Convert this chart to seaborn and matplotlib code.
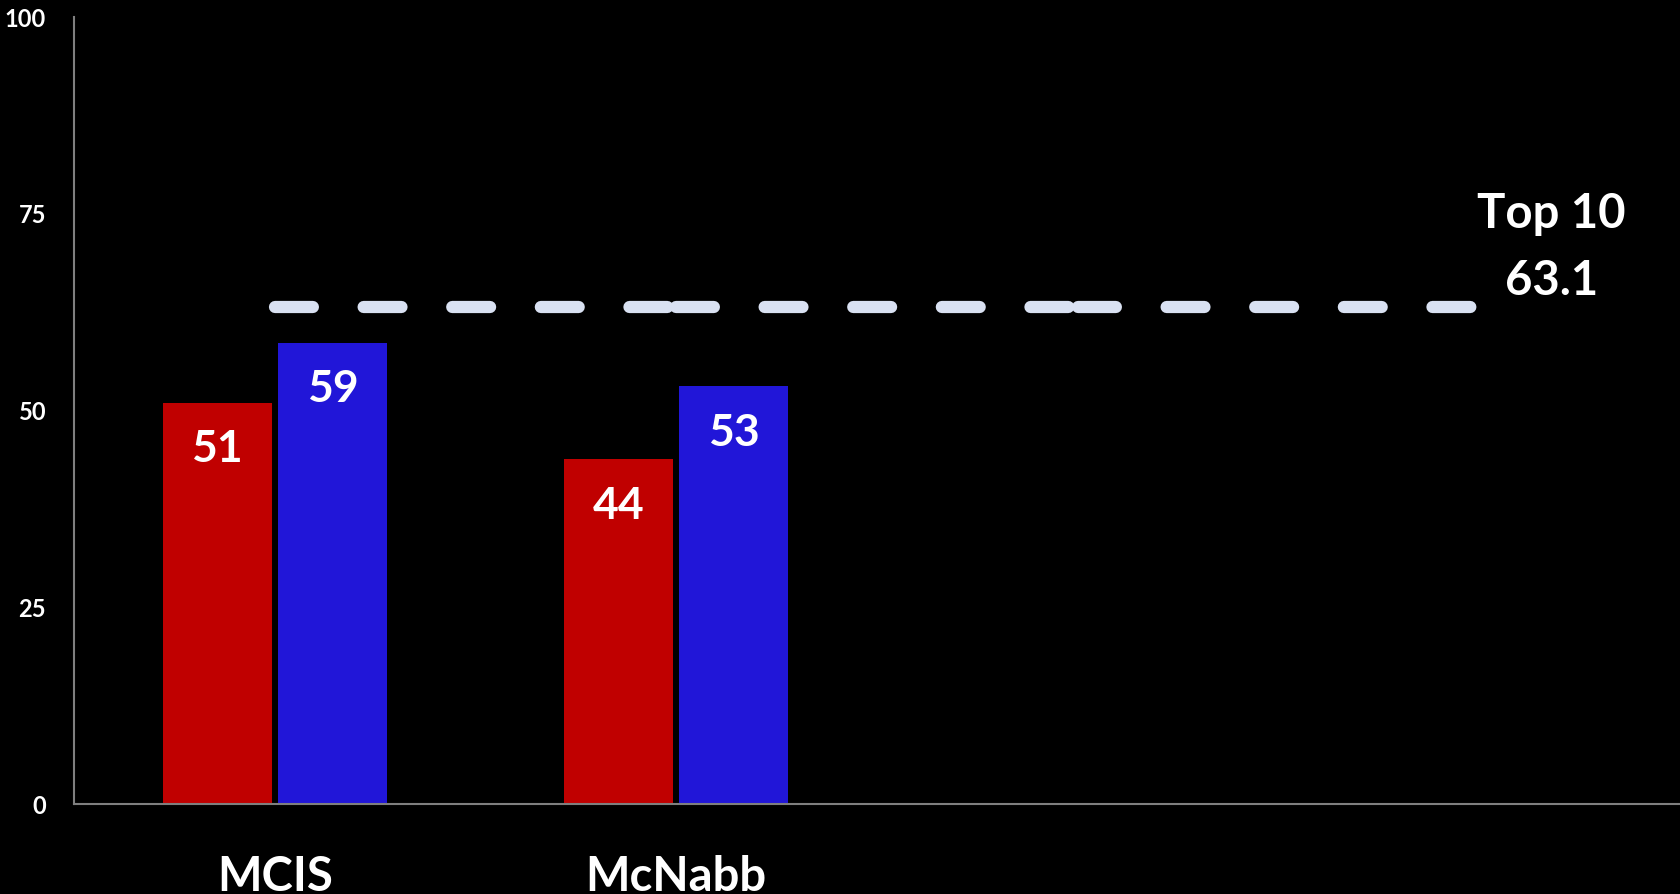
import numpy as np
import pandas as pd
import seaborn as sns
import matplotlib.pyplot as plt

# Dados do gráfico
categories = ['MCIS', 'McNabb']
series_names = ['Série 1', 'Série 2']
red_values = [51, 43.8]
blue_values = [58.6, 53.1]
top10_value = 63.1
top10_label = 'Top 10'
slot_count = 4          # o eixo tem 4 posições, só 2 com barras
y_ticks = [0, 25, 50, 75, 100]

df = pd.DataFrame({
    'cat': categories * 2,
    'series': [series_names[0]] * len(categories) + [series_names[1]] * len(categories),
    'value': red_values + blue_values,
})

# linha "Top 10" desenhada em segmentos (um por intervalo de categoria)
seg_rows = []
for i in range(slot_count - 1):
    seg_rows.append({'seg': i, 'x': i, 'y': top10_value})
    seg_rows.append({'seg': i, 'x': i + 1, 'y': top10_value})
df_line = pd.DataFrame(seg_rows)

sns.set_theme(style='ticks', rc={'figure.facecolor': 'black', 'axes.facecolor': 'black'})
plt.rcParams['font.family'] = ['Lato', 'DejaVu Sans']

fig = plt.figure(figsize=(16.8, 8.94), dpi=100)
ax = fig.add_axes([74 / 1680, 90 / 894, 1 - 74 / 1680, 787 / 894])

sns.barplot(data=df, x='cat', y='value', hue='series', order=categories,
            palette=['#C00000', '#2116D8'], saturation=1, width=0.575, gap=0.056,
            linewidth=0, edgecolor='none', legend=False, ax=ax)

sns.lineplot(data=df_line, x='x', y='y', units='seg', estimator=None, ax=ax,
             color='#D9E1F2', linewidth=8.8, linestyle=(0, (3.1, 4.15)),
             dash_capstyle='round', solid_capstyle='round')

# rótulos das barras
for container in ax.containers:
    ax.bar_label(container, fmt='%.0f', padding=-48, color='white',
                 fontsize=32, fontweight='bold')

# texto da linha Top 10
ax.annotate(top10_label, xy=(slot_count - 1, top10_value), xytext=(52, 67),
            textcoords='offset points', ha='center', va='center',
            color='white', fontsize=34, fontweight='bold', annotation_clip=False)
ax.annotate(f'{top10_value}', xy=(slot_count - 1, top10_value), xytext=(52, 19),
            textcoords='offset points', ha='center', va='center',
            color='white', fontsize=34, fontweight='bold', annotation_clip=False)

# Personalizando os eixos
ax.set_xlim(-0.5, slot_count - 0.5)
ax.set_ylim(0, 100)
ax.set_yticks(y_ticks)
ax.set_xlabel('')
ax.set_ylabel('')
sns.despine(ax=ax)
for side in ['left', 'bottom']:
    ax.spines[side].set_color('#7f7f7f')
    ax.spines[side].set_linewidth(1.5)
ax.tick_params(axis='y', length=0, pad=20, labelsize=17, labelcolor='white')
ax.tick_params(axis='x', length=0, pad=37, labelsize=34, labelcolor='white')
for lbl in ax.get_xticklabels() + ax.get_yticklabels():
    lbl.set_fontweight('bold')

fig.savefig('out.png', dpi=100, facecolor='black')
